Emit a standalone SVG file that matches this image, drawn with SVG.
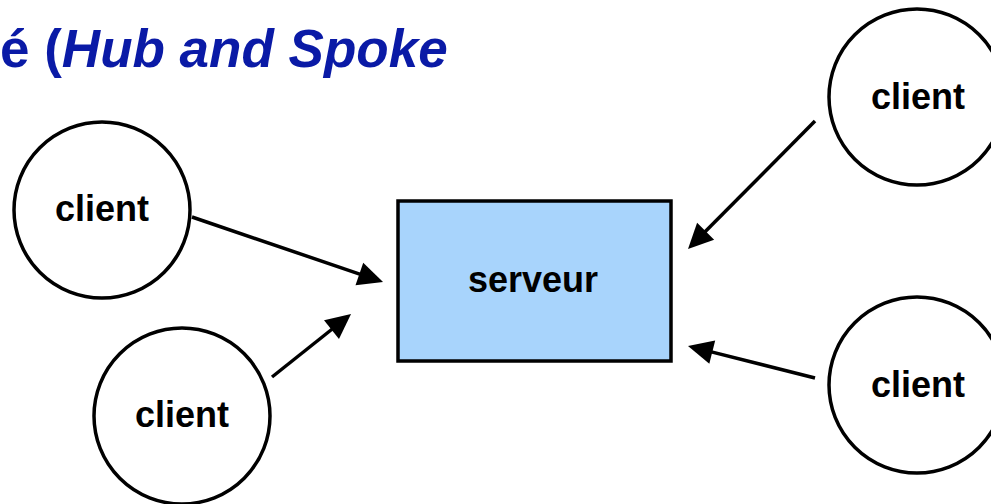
<svg xmlns="http://www.w3.org/2000/svg" width="991" height="504" viewBox="0 0 991 504">
  <style>
    .title { font-family: "Liberation Sans", Arial, sans-serif; font-weight: bold; font-size: 53px; fill: #0a1aa6; }
    .node-circle { fill: #ffffff; stroke: #000000; stroke-width: 3.5; }
    .node-rect { fill: #a8d4fc; stroke: #000000; stroke-width: 3.5; }
    .label { font-family: "Liberation Sans", Arial, sans-serif; font-weight: bold; font-size: 36px; fill: #000000; text-anchor: middle; }
    .link { fill: none; stroke: #000000; stroke-width: 3.5; marker-end: url(#arrow); }
  </style>
  <defs>
    <!-- filled triangular head; the line stops 20px short of the tip -->
    <marker id="arrow" markerUnits="userSpaceOnUse" markerWidth="25" markerHeight="24" refX="5" refY="12" orient="auto" overflow="visible">
      <path d="M0,0 L25,12 L0,24 z" fill="#000000"/>
    </marker>
  </defs>
  <rect width="991" height="504" fill="#ffffff"/>

  <text class="title" x="0" y="67">é (<tspan font-style="italic">Hub and Spoke</tspan></text>

  <g id="connectors">
    <line class="link" x1="192" y1="217" x2="364.1" y2="275.6"/>
    <line class="link" x1="272" y1="377" x2="335.4" y2="326.5"/>
    <line class="link" x1="815" y1="121" x2="702.1" y2="234.8"/>
    <line class="link" x1="815" y1="378" x2="707.4" y2="350.9"/>
  </g>

  <g id="serveur">
    <rect class="node-rect" x="398" y="201" width="273" height="160"/>
    <text class="label" x="533" y="292">serveur</text>
  </g>

  <g id="client-top-left">
    <circle class="node-circle" cx="102" cy="210" r="88"/>
    <text class="label" x="102" y="221">client</text>
  </g>

  <g id="client-bottom-left">
    <circle class="node-circle" cx="182" cy="416" r="88"/>
    <text class="label" x="182" y="427">client</text>
  </g>

  <g id="client-top-right">
    <circle class="node-circle" cx="917" cy="97" r="88"/>
    <text class="label" x="918" y="109">client</text>
  </g>

  <g id="client-bottom-right">
    <circle class="node-circle" cx="917" cy="385" r="88"/>
    <text class="label" x="918" y="397">client</text>
  </g>
</svg>
